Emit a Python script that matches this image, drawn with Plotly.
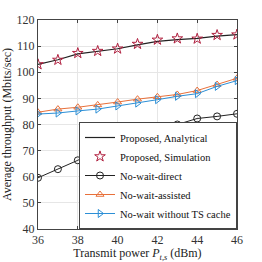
import plotly.graph_objects as go

power = [36, 37, 38, 39, 40, 41, 42, 43, 44, 45, 46]
proposed_analytical = [103.0, 104.8, 107.0, 108.0, 109.0, 110.5, 111.8, 112.5, 113.0, 113.8, 114.4]
proposed_simulation = [103.0, 104.7, 107.3, 108.1, 109.0, 110.8, 112.4, 112.9, 112.8, 114.2, 114.4]
no_wait_direct = [59.6, 62.9, 66.3, 70.2, 74.2, 76.2, 77.9, 80.0, 82.3, 83.1, 84.1]
no_wait_assisted = [84.7, 85.9, 86.6, 87.5, 88.6, 89.7, 90.6, 91.5, 93.0, 95.3, 97.7]
no_wait_no_cache = [84.0, 84.4, 85.2, 85.9, 87.1, 88.2, 89.5, 90.8, 91.8, 94.6, 96.8]

xticks = [36, 38, 40, 42, 44, 46]
yticks = [40, 50, 60, 70, 80, 90, 100, 110, 120]

FONT = "Liberation Serif"
ORANGE = "#E8703A"
BLUE = "#2C8FD6"
CRIMSON = "#B0203F"

fig = go.Figure()
fig.add_trace(go.Scatter(x=power, y=proposed_analytical, mode="lines",
                         line=dict(color="#222222", width=1.2),
                         name="Proposed, Analytical"))
fig.add_trace(go.Scatter(x=power, y=proposed_simulation, mode="markers",
                         marker=dict(symbol="star-open", size=8, color=CRIMSON,
                                     line=dict(width=1, color=CRIMSON)),
                         name="Proposed, Simulation"))
fig.add_trace(go.Scatter(x=power, y=no_wait_direct, mode="lines+markers",
                         line=dict(color="#222222", width=1),
                         marker=dict(symbol="circle-open", size=7, color="#222222",
                                     line=dict(width=1)),
                         name="No-wait-direct"))
fig.add_trace(go.Scatter(x=power, y=no_wait_assisted, mode="lines+markers",
                         line=dict(color=ORANGE, width=1),
                         marker=dict(symbol="triangle-up-open", size=7, color=ORANGE,
                                     line=dict(width=1)),
                         name="No-wait-assisted"))
fig.add_trace(go.Scatter(x=power, y=no_wait_no_cache, mode="lines+markers",
                         line=dict(color=BLUE, width=1),
                         marker=dict(symbol="triangle-right-open", size=7, color=BLUE,
                                     line=dict(width=1)),
                         name="No-wait without TS cache"))

axis_common = dict(showgrid=True, gridcolor="#e6e6e6", gridwidth=1,
                   showline=True, linecolor="#444444", linewidth=1, mirror="ticks",
                   ticks="inside", ticklen=3, tickcolor="#444444",
                   tickfont=dict(family=FONT, size=12, color="#333333"),
                   zeroline=False, automargin=False)

fig.update_layout(
    width=262, height=262,
    margin=dict(l=38, r=25, t=20, b=33),
    paper_bgcolor="white", plot_bgcolor="white",
    font=dict(family=FONT, size=12, color="#222222"),
    xaxis=dict(range=[36, 46], tickvals=xticks, **axis_common,
               title=dict(text="Transmit power <i>P</i><sub><i>t,s</i></sub> (dBm)",
                          font=dict(family=FONT, size=12, color="#222222"), standoff=1)),
    yaxis=dict(range=[40, 120], tickvals=yticks, **axis_common,
               title=dict(text="Average throughput (Mbits/sec)",
                          font=dict(family=FONT, size=12, color="#222222"), standoff=3)),
    legend=dict(x=1, y=0, xanchor="right", yanchor="bottom",
                bgcolor="white", bordercolor="#444444", borderwidth=1,
                font=dict(family=FONT, size=10.5, color="#111111"),
                itemwidth=30, tracegroupgap=0),
    showlegend=True,
)

fig.write_html("out.html", config={"displayModeBar": False},
               post_script="document.body.style.margin='0';document.body.style.padding='0';")
